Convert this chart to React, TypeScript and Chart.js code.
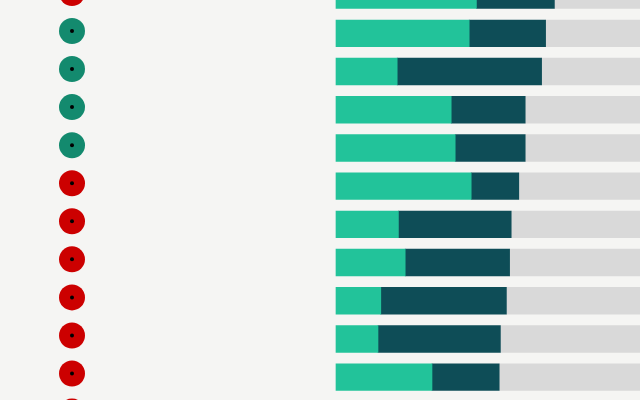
import React, { useEffect, useRef } from "react";
import { Chart, registerables } from "chart.js";

Chart.register(...registerables);

// One row per entry; the last row only has its marker in view.
const rows = ["1", "2", "3", "4", "5", "6", "7", "8", "9", "10", "11", "12"];
// Marker colour per row: "G" = green, "R" = red.
const status = ["R", "G", "G", "G", "G", "R", "R", "R", "R", "R", "R", "R"];
// Stacked shares (percent) for each bar row.
const shareA = [35.1, 33.3, 15.3, 28.8, 29.8, 33.8, 15.6, 17.3, 11.2, 10.5, 24.0];
const shareB = [19.5, 19.1, 36.1, 18.5, 17.5, 11.9, 28.2, 26.1, 31.4, 30.6, 16.8];
const shareRest = shareA.map((a, i) => 100 - a - shareB[i]);

const BG = "#f5f5f3";
const COL_A = "#22c39a";
const COL_B = "#0e4d57";
const COL_REST = "#d9d9d9";
const STATUS_COL: Record<string, string> = { G: "#138a6e", R: "#cc0000" };

const hidden = { display: false, offset: false, grid: { offset: false } };

const baseOptions = {
  animation: false as const,
  responsive: false,
  events: [] as any[],
  layout: { padding: 0, autoPadding: false },
  plugins: { legend: { display: false }, tooltip: { enabled: false } },
};

export default function App() {
  const barRef = useRef<HTMLCanvasElement | null>(null);
  const dotRef = useRef<HTMLCanvasElement | null>(null);

  useEffect(() => {
    document.body.style.margin = "0";
    document.body.style.background = BG;

    const barSet = (label: string, vals: number[], color: string) => ({
      label,
      data: vals.map((v, i) => ({ x: v, y: i })),
      backgroundColor: color,
      borderWidth: 0,
      barThickness: 26.7,
    });

    // Stacked share bars; the x range runs past the right edge so the
    // remainder segment is cut off by the canvas.
    const bars = new Chart(barRef.current!, {
      type: "bar",
      data: {
        datasets: [
          barSet("A", shareA, COL_A),
          barSet("B", shareB, COL_B),
          barSet("Rest", shareRest, COL_REST),
        ],
      },
      options: {
        ...baseOptions,
        indexAxis: "y",
        scales: {
          x: { type: "linear", stacked: true, min: -84, max: 76, ...hidden },
          y: { type: "linear", stacked: true, reverse: true, min: 0.127, max: 10.598, ...hidden },
        },
      } as any,
    });

    // Status markers column.
    const markerData = rows.map((_, i) => ({ x: 0, y: i }));
    const dots = new Chart(dotRef.current!, {
      type: "scatter",
      data: {
        datasets: [
          {
            label: "dot",
            data: markerData,
            pointRadius: 2,
            pointBackgroundColor: "#000000",
            pointBorderWidth: 0,
            order: 0,
          },
          {
            label: "status",
            data: markerData,
            pointRadius: 13,
            pointBackgroundColor: status.map((s) => STATUS_COL[s]),
            pointBorderWidth: 0,
            order: 1,
          },
        ],
      },
      options: {
        ...baseOptions,
        scales: {
          x: { type: "linear", min: -1, max: 1, ...hidden },
          y: { type: "linear", reverse: true, min: 0.1855, max: 10.695, ...hidden },
        },
      } as any,
    });

    return () => {
      bars.destroy();
      dots.destroy();
    };
  }, []);

  return (
    <div style={{ position: "fixed", left: 0, top: 0, width: 640, height: 400, background: BG }}>
      <canvas ref={barRef} width={640} height={400} style={{ position: "absolute", left: 0, top: 0 }} />
      <canvas ref={dotRef} width={144} height={400} style={{ position: "absolute", left: 0, top: 0 }} />
    </div>
  );
}
